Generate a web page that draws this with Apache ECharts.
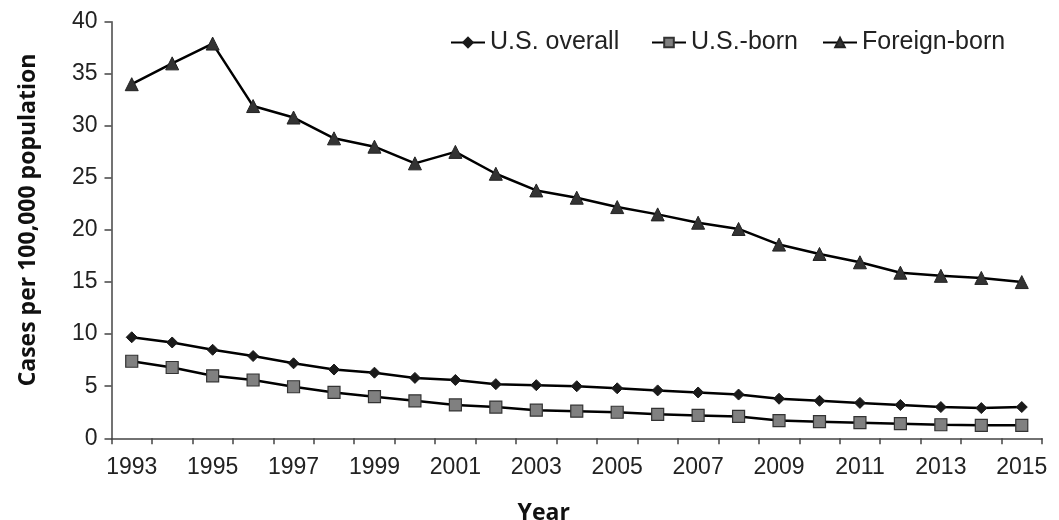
<!DOCTYPE html>
<html>
<head>
<meta charset="utf-8">
<script src="https://cdn.jsdelivr.net/npm/echarts@6/dist/echarts.min.js"></script>
<style>html,body{margin:0;padding:0;background:#fff}#c{width:1059px;height:520px}</style>
</head>
<body>
<div id="c"></div>
<script>
var years = ['1993','1994','1995','1996','1997','1998','1999','2000','2001','2002','2003','2004','2005','2006','2007','2008','2009','2010','2011','2012','2013','2014','2015'];
var usOverall = [9.7,9.2,8.5,7.9,7.2,6.6,6.3,5.8,5.6,5.2,5.1,5.0,4.8,4.6,4.4,4.2,3.8,3.6,3.4,3.2,3.0,2.9,3.0];
var usBorn = [7.4,6.8,6.0,5.6,4.95,4.4,4.0,3.6,3.2,3.0,2.7,2.6,2.5,2.3,2.2,2.1,1.7,1.6,1.5,1.4,1.3,1.25,1.25];
var foreignBorn = [34.0,36.0,37.9,31.9,30.8,28.8,28.0,26.4,27.5,25.4,23.8,23.1,22.2,21.5,20.7,20.1,18.6,17.7,16.9,15.9,15.6,15.4,15.0];
var seriesNames = ['U.S. overall','U.S.-born','Foreign-born'];
var yTicks = {min:0, max:40, interval:5};

var chart = echarts.init(document.getElementById('c'));
var font = 'Liberation Sans, Arial, sans-serif';
var legendText = {fontFamily: font, fontSize: 25, color: '#222'};
function mkLegend(name, left) {
  return {data:[name], left:left, top:30, itemWidth:34, itemHeight:12, itemGap:0, textStyle:legendText, padding:0};
}
chart.setOption({
  animation: false,
  backgroundColor: '#fff',
  legend: [mkLegend(seriesNames[0], 450), mkLegend(seriesNames[1], 651), mkLegend(seriesNames[2], 822)],
  grid: {left: 111.5, right: 17, top: 21.7, bottom: 81.7, containLabel: false, outerBoundsMode: 'none'},
  xAxis: {
    type: 'category',
    data: years,
    boundaryGap: true,
    name: 'Year',
    nameLocation: 'middle',
    nameGap: 64,
    nameTextStyle: {fontFamily: 'Open Sans, sans-serif', fontWeight: 'bold', fontSize: 23, color: '#111', padding: [0, 66, 0, 0]},
    axisLine: {show: true, lineStyle: {color: '#444', width: 1.5}},
    axisTick: {show: true, interval: 0, length: 6, lineStyle: {color: '#444', width: 1.5}},
    axisLabel: {interval: 1, margin: 18, fontFamily: font, fontSize: 23, color: '#222'},
    splitLine: {show: false}
  },
  yAxis: {
    type: 'value',
    min: yTicks.min, max: yTicks.max, interval: yTicks.interval,
    name: 'Cases per 100,000 population',
    nameLocation: 'middle',
    nameRotate: 90,
    nameGap: 72,
    nameTextStyle: {fontFamily: 'Open Sans, sans-serif', fontWeight: 'bold', fontSize: 23, color: '#111', padding: [0, 0, 0, 20]},
    axisLine: {show: true, lineStyle: {color: '#444', width: 1.5}},
    axisTick: {show: true, length: 7, lineStyle: {color: '#444', width: 1.5}},
    axisLabel: {margin: 14, fontFamily: font, fontSize: 23, color: '#222'},
    splitLine: {show: false}
  },
  series: [
    {name: seriesNames[0], type: 'line', data: usOverall, symbol: 'diamond', symbolSize: 11,
     lineStyle: {color: '#000', width: 2.5}, itemStyle: {color: '#1a1a1a', borderColor: '#1a1a1a', borderWidth: 1}},
    {name: seriesNames[1], type: 'line', data: usBorn, symbol: 'rect', symbolSize: 12,
     lineStyle: {color: '#000', width: 2.5}, itemStyle: {color: '#808080', borderColor: '#333', borderWidth: 1.2}},
    {name: seriesNames[2], type: 'line', data: foreignBorn, symbol: 'triangle', symbolSize: 13,
     lineStyle: {color: '#000', width: 2.5}, itemStyle: {color: '#333', borderColor: '#222', borderWidth: 1}}
  ]
});
</script>
</body>
</html>
